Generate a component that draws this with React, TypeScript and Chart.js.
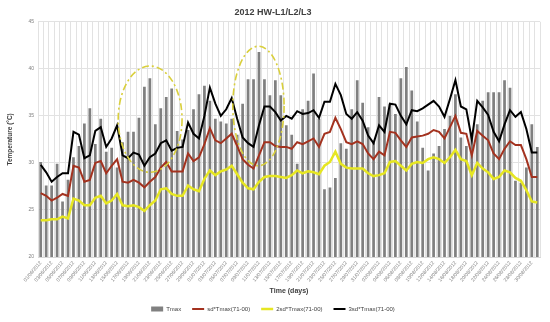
import React, { useEffect, useRef } from "react";
import { Chart, registerables } from "chart.js";

Chart.register(...registerables);

const MONTHS = [
  { m: "06", days: 30 },
  { m: "07", days: 31 },
  { m: "08", days: 31 },
];
const dates: string[] = [];
for (const { m, days } of MONTHS) {
  for (let d = 1; d <= days; d++) dates.push(`${String(d).padStart(2, "0")}/${m}/2012`);
}

const tmax = [
  30.1, 27.6, 27.6, 29.9, 25.9, 28.2, 30.6, 31.8, 34.2, 35.8,
  32.0, 34.7, 31.2, 31.6, 29.5, 32.2, 33.3, 33.3, 34.8, 38.1,
  39.0, 34.1, 35.8, 37.0, 37.9, 33.4, 32.5, 33.5, 35.7, 37.3,
  38.2, 36.6, 34.7, 34.4, 34.2, 34.7, 33.0, 36.3, 38.9, 38.9,
  41.8, 38.9, 37.2, 38.8, 37.2, 34.0, 33.0, 29.9, 35.7, 36.6,
  39.5, 34.7, 27.2, 27.4, 28.4, 32.1, 31.5, 35.7, 38.8, 36.4,
  33.8, 32.2, 37.0, 36.0, 36.3, 35.2, 39.0, 40.2, 37.7, 34.4,
  31.6, 29.2, 31.0, 31.8, 33.6, 35.0, 37.3, 32.7, 31.8, 33.0,
  34.1, 36.6, 37.5, 37.5, 37.5, 38.8, 38.0, 28.1, 27.9, 29.5,
  34.1, 31.7,
];

const sd1 = [
  26.8, 26.5, 26.0, 26.3, 26.7, 26.5, 29.7, 29.5, 28.0, 28.2,
  30.0, 30.2, 28.9, 29.7, 30.4, 28.0, 27.9, 28.2, 27.9, 27.4,
  28.0, 28.5, 29.5, 30.1, 29.1, 29.1, 29.1, 31.0, 30.2, 30.6,
  32.0, 33.7, 32.4, 32.1, 32.6, 33.1, 31.8, 30.4, 29.8, 29.4,
  30.8, 32.2, 32.2, 31.8, 31.7, 31.7, 31.5, 32.2, 32.0, 32.3,
  32.6, 31.7, 33.1, 33.3, 34.8, 33.6, 32.2, 32.0, 32.3, 32.0,
  31.0, 30.4, 31.2, 30.8, 33.3, 33.2, 32.4, 31.7, 32.7, 32.8,
  32.9, 33.1, 33.5, 33.3, 32.6, 33.8, 35.0, 33.2, 33.1, 30.8,
  33.4, 32.9, 32.4, 31.0, 30.4, 31.5, 32.3, 31.9, 31.9, 30.4,
  28.5, 28.5,
];

const sd2 = [
  23.9, 23.9, 24.0, 24.0, 24.3, 24.1, 26.2, 26.0, 25.5, 25.5,
  26.3, 26.5, 25.7, 26.0, 26.7, 25.5, 25.4, 25.5, 25.3, 24.9,
  25.5, 26.0, 27.2, 27.3, 26.7, 26.5, 26.5, 27.6, 27.2, 27.0,
  28.3, 29.2, 28.7, 29.1, 29.3, 29.7, 28.8, 27.9, 27.3, 27.2,
  28.0, 28.5, 28.6, 28.6, 28.5, 28.4, 28.7, 29.2, 28.9, 29.1,
  29.0, 28.8, 29.7, 30.1, 31.2, 29.9, 29.5, 29.4, 29.4, 29.4,
  28.9, 28.6, 28.7, 28.9, 30.1, 30.2, 29.7, 29.2, 29.9, 30.1,
  30.0, 30.4, 30.6, 30.4, 30.0, 30.6, 31.4, 30.4, 30.2, 28.7,
  30.0, 29.4, 29.0, 28.3, 28.5, 29.2, 29.0, 28.4, 28.1, 27.1,
  25.9, 25.8,
];

const sd3 = [
  29.8, 29.0, 28.0, 28.5, 28.9, 28.9, 33.3, 33.0, 30.5, 30.8,
  33.4, 33.8, 31.7, 32.6, 34.0, 30.8, 30.5, 31.1, 30.9, 29.7,
  30.6, 31.0, 32.1, 32.4, 31.3, 31.6, 31.7, 34.3, 33.1, 32.6,
  35.0, 38.0, 36.3, 35.0, 35.7, 36.9, 34.7, 32.7, 32.1, 31.7,
  34.0, 36.0, 36.0, 35.4, 34.5, 35.0, 34.7, 35.5, 35.2, 35.3,
  35.6, 34.8, 36.5, 36.5, 38.4, 37.2, 35.2, 34.7, 35.4, 34.5,
  32.9, 32.1, 34.0, 33.3, 36.3, 36.2, 35.0, 34.1, 35.6, 35.5,
  35.8, 36.2, 36.6, 36.0, 34.9, 36.8, 38.8, 36.0, 35.7, 32.5,
  36.6, 35.9, 35.1, 33.3, 32.3, 34.1, 35.6, 34.9, 35.4, 33.6,
  31.1, 31.1,
];

// Highlighted heat-wave periods: category-index span and temperature span
const ellipseX = [
  [14.2, 25.9],
  [35.2, 44.6],
];
const ellipseY = [
  [29.0, 40.3],
  [29.7, 42.4],
];

const FONT = "'Liberation Sans', Arial, sans-serif";

export default function App() {
  const ref = useRef<HTMLCanvasElement>(null);

  useEffect(() => {
    if (!ref.current) return;
    const ellipsePlugin = {
      id: "hwEllipses",
      afterDatasetsDraw(chart: any) {
        const { ctx } = chart;
        const x = chart.scales.x;
        const y = chart.scales.y;
        ctx.save();
        ctx.strokeStyle = "#d9cf3c";
        ctx.lineWidth = 1.6;
        ctx.setLineDash([7, 3, 2, 3]);
        for (let k = 0; k < ellipseX.length; k++) {
          const px0 = x.getPixelForValue(ellipseX[k][0]);
          const px1 = x.getPixelForValue(ellipseX[k][1]);
          const py0 = y.getPixelForValue(ellipseY[k][0]);
          const py1 = y.getPixelForValue(ellipseY[k][1]);
          ctx.beginPath();
          ctx.ellipse(
            (px0 + px1) / 2,
            (py0 + py1) / 2,
            Math.abs(px1 - px0) / 2,
            Math.abs(py1 - py0) / 2,
            0,
            0,
            Math.PI * 2
          );
          ctx.stroke();
        }
        ctx.restore();
      },
    };

    const chart = new Chart(ref.current, {
      type: "bar",
      data: {
        labels: dates,
        datasets: [
          {
            type: "bar",
            label: "Tmax",
            data: tmax,
            backgroundColor: "#808080",
            borderWidth: 0,
            barPercentage: 0.5,
            categoryPercentage: 1.0,
            order: 4,
            pointStyle: "rect",
          } as any,
          {
            type: "line",
            label: "sd*Tmax(71-00)",
            data: sd1,
            borderColor: "#a3321f",
            backgroundColor: "#a3321f",
            borderWidth: 2,
            pointRadius: 0,
            tension: 0,
            order: 1,
            pointStyle: "line",
          } as any,
          {
            type: "line",
            label: "2sd*Tmax(71-00)",
            data: sd2,
            borderColor: "#e6e622",
            backgroundColor: "#e6e622",
            borderWidth: 2.5,
            pointRadius: 0,
            tension: 0,
            order: 2,
            pointStyle: "line",
          } as any,
          {
            type: "line",
            label: "3sd*Tmax(71-00)",
            data: sd3,
            borderColor: "#000000",
            backgroundColor: "#000000",
            borderWidth: 2,
            pointRadius: 0,
            tension: 0,
            order: 0,
            pointStyle: "line",
          } as any,
        ],
      },
      options: {
        responsive: true,
        maintainAspectRatio: false,
        animation: false,
        layout: { padding: { left: 6, right: 10, top: 0, bottom: 0 } },
        plugins: {
          title: {
            display: true,
            text: "2012 HW-L1/L2/L3",
            color: "#404040",
            font: { family: FONT, size: 9, weight: "bold" },
            padding: { top: 7, bottom: 4 },
          },
          legend: {
            position: "bottom",
            labels: {
              usePointStyle: true,
              pointStyleWidth: 12,
              boxHeight: 5,
              padding: 11,
              color: "#404040",
              font: { family: FONT, size: 6 },
              sort: (a: any, b: any) => a.datasetIndex - b.datasetIndex,
            },
          },
          tooltip: { enabled: false },
        },
        scales: {
          x: {
            grid: { color: "#e2e2e2", offset: true, drawTicks: false },
            border: { display: true, color: "#d8d8d8" },
            ticks: {
              autoSkip: false,
              maxRotation: 50,
              minRotation: 50,
              padding: 3,
              color: "#808080",
              font: { family: FONT, size: 5 },
              callback: (_v: any, i: number) => (i % 2 === 0 ? dates[i] : ""),
            },
            title: {
              display: true,
              text: "Time (days)",
              color: "#404040",
              font: { family: FONT, size: 7, weight: "bold" },
              padding: { top: 0, bottom: 0 },
            },
            afterFit: (s: any) => {
              s.height = 38;
            },
          },
          y: {
            min: 20,
            max: 45,
            grid: { color: "#e2e2e2", drawTicks: false },
            border: { display: false },
            ticks: {
              stepSize: 5,
              padding: 4,
              color: "#808080",
              font: { family: FONT, size: 5 },
            },
            title: {
              display: true,
              text: "Temperature (°C)",
              color: "#404040",
              font: { family: FONT, size: 6.5, weight: "bold" },
              padding: { top: 0, bottom: 0 },
            },
            afterFit: (s: any) => {
              s.width = 32;
            },
          },
        },
      } as any,
      plugins: [ellipsePlugin],
    });
    return () => chart.destroy();
  }, []);

  return (
    <div
      style={{
        position: "fixed",
        left: 0,
        top: 0,
        width: 550,
        height: 322,
        background: "#ffffff",
      }}
    >
      <canvas ref={ref} />
    </div>
  );
}
